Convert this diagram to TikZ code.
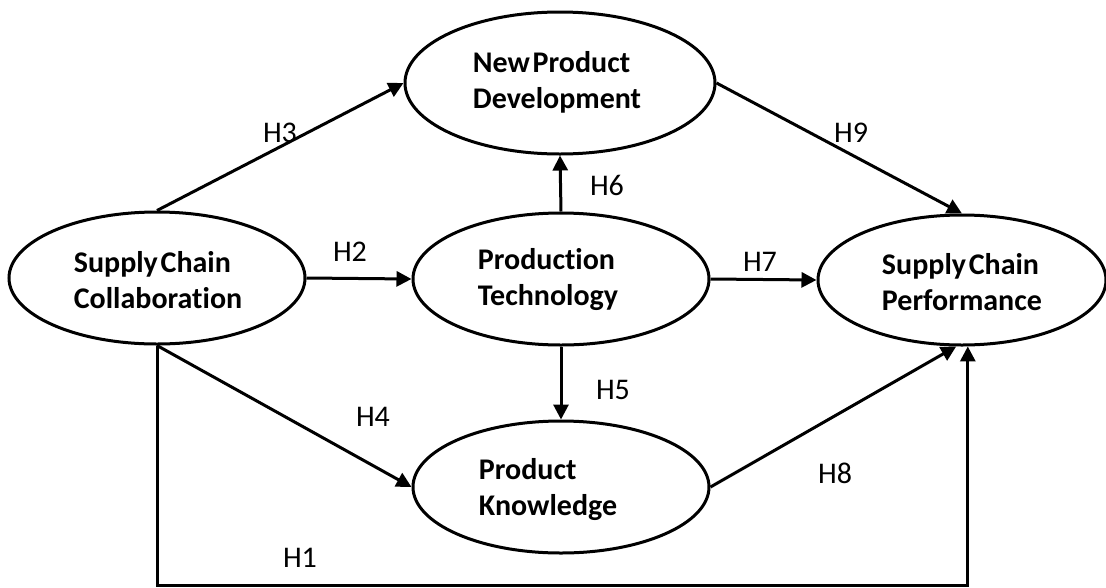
\documentclass[tikz,border=0pt]{standalone}
\usepackage{fontspec}
\setmainfont[Ligatures=NoCommon, BoldFeatures={WordSpace=0.4}]{Carlito}
\usetikzlibrary{shapes.geometric,arrows.meta}
\begin{document}
\begin{tikzpicture}[x=1pt,y=-1pt,
  construct/.style={draw, ellipse, line width=3pt, inner sep=0pt},
  ctext/.style={font=\fontsize{30}{36}\selectfont\bfseries, align=left, inner sep=0pt},
  hyp/.style={font=\fontsize{30}{34}\selectfont, inner sep=0pt},
  link/.style={line width=3pt, -{Triangle[length=15pt,width=15pt]}}]
\useasboundingbox (0,0) rectangle (1106,587);
% constructs
\node[construct, minimum width=310pt, minimum height=142pt] (NPD) at (560,83) {};
\node[construct, minimum width=296pt, minimum height=132pt] (SCC) at (157,278) {};
\node[construct, minimum width=296pt, minimum height=132pt] (PT) at (561,279) {};
\node[construct, minimum width=288pt, minimum height=130pt] (SCP) at (962,280) {};
\node[construct, minimum width=296pt, minimum height=132pt] (PK) at (561,487) {};
% texts
\node[ctext] (NPDt) at (557,82) {New Product\\Development};
\node[ctext] (SCCt) at (158,280) {Supply Chain\\Collaboration};
\node[ctext] (PTt) at (548,280) {Production\\Technology};
\node[ctext] (SCPt) at (962,282) {Supply Chain\\Performance};
\node[ctext] (PKt) at (548,490) {Product\\Knowledge};
% connectors
\draw[link] (SCC.north) -- (NPD.west);
\draw[link] (SCC.east) -- (PT.west);
\draw[link] (PT.north) -- (NPD.south);
\draw[link] (PT.east) -- (SCP.west);
\draw[link] (NPD.east) -- (SCP.north);
\draw[link] (PT.south) -- (PK.north);
\draw[link] (SCC.south) -- (PK.west);
\draw[link] (PK.east) -- (SCP.265);
\coordinate (base) at (0,585);
\draw[link] (SCC.south) -- (SCC.south |- base) -- (SCP.275 |- base) -- (SCP.275);
% labels
\node[hyp] (H3) at (280,133) {H3};
\node[hyp] (H2) at (350,252) {H2};
\node[hyp] (H6) at (607,185) {H6};
\node[hyp] (H7) at (760,262) {H7};
\node[hyp] (H9) at (851,133) {H9};
\node[hyp] (H5) at (613,390) {H5};
\node[hyp] (H4) at (373,417) {H4};
\node[hyp] (H8) at (835,473) {H8};
\node[hyp] (H1) at (300,558) {H1};
\end{tikzpicture}
\end{document}
